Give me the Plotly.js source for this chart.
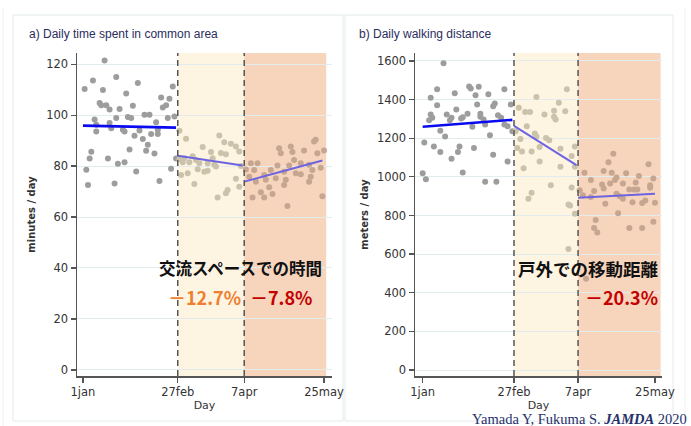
<!DOCTYPE html>
<html>
<head>
<meta charset="utf-8">
<script src="https://cdn.plot.ly/plotly-3.0.1.min.js"></script>
<style>
html,body{margin:0;padding:0;background:#fff;}
#chart{width:691px;height:426px;}
</style>
</head>
<body>
<div id="chart"></div>
<script>
// ---------- DATA ----------
// x = day of year 2020 (1 = 1 Jan)
const tickDays = [1, 58, 98, 146];
const tickLabels = ['1jan', '27feb', '7apr', '25may'];
const periodBreaks = [58, 98];

// a) minutes / day in common area
const aPreDay = [14,2,7,13,21,34,27,11,12,15,17,23,31,48,53,55,49,51,8,21,28,30,38,41,52,56,17,45,9,9,18,25,26,35,46,32,37,42,46,40,39,44,29,6,5,16,22,26,57,3,33,54,4,20,47];
const aPreVal = [121.5,110.3,113.6,109.9,115,112.6,108.5,104.8,103.9,103.9,102.2,102.4,103.7,106.9,106.4,111.2,103,103.9,98.3,98.9,99.3,98.9,100.2,100.2,98.9,99.5,96.9,97.2,96.2,93.6,94.9,94.3,93.6,94,94.3,91.9,90.6,92.6,92.6,88.4,86,84.9,86.5,85.6,83,83,80.9,81.5,83,78.6,77.9,79,72.6,73.2,74.2];
const aMidDay = [63,83,86,90,93,73,78,84,87,95,67,62,59,69,79,71,76,61,65,80,70,74,76,81,60,64,68,93,95,88,87,82,59,96];
const aMidVal = [90.7,92,89.4,88.8,87.7,87.5,85.5,85.1,84.7,85.7,83.9,83.1,82.7,82.4,83.1,81.1,81.1,81.5,81.5,80.5,78.8,77.8,78.2,79.8,76.5,77.2,73,75,71.9,70.6,69.3,67.7,93.9,80];
const aPostDay = [119,126,140,141,120,127,134,142,146,102,106,118,125,128,132,137,144,99,104,114,122,129,139,101,110,117,132,138,105,111,123,137,122,113,108,103,110,115,145,124];
const aPostVal = [87,87.7,89.7,90.3,85,85.5,86.1,85,86.1,81.1,81.1,80.2,80.2,82.4,81.1,80.5,79.4,78.7,78.5,78.5,77.8,77.2,78.5,75.8,76.5,75.2,76.8,75.8,73.9,74.6,74.6,73.9,72.6,71.7,69.7,67.7,67.7,69,68.2,64.3];
const aTrendPreDay = [1, 57],   aTrendPreVal = [95.9, 95.1];
const aTrendMidDay = [58, 97],  aTrendMidVal = [84.1, 80.2];
const aTrendPostDay = [98, 145], aTrendPostVal = [73.9, 82.2];

// b) meters / day walking distance
const bPreDay = [14,6,10,21,30,31,36,34,42,52,10,22,35,46,45,56,6,7,16,19,26,29,37,37,48,50,5,18,25,39,52,54,12,15,32,40,57,43,2,8,12,24,23,19,33,45,54,26,1,3,40,47];
const bPreVal = [1588,1410,1454,1433,1468,1457,1466,1422,1428,1454,1370,1349,1375,1379,1366,1375,1323,1306,1323,1306,1309,1326,1326,1311,1319,1306,1293,1293,1302,1297,1271,1262,1239,1209,1259,1271,1236,1215,1178,1157,1128,1157,1128,1093,1149,1114,1079,1023,1018,987,974,974];
const bMidDay = [91,72,86,77,83,90,65,68,83,84,66,71,72,78,80,74,62,63,60,69,87,74,87,94,96,64,96,81,67,69,94,92,93,96,92,61,59];
const bMidVal = [1454,1413,1384,1323,1342,1340,1335,1335,1311,1297,1262,1224,1209,1201,1189,1154,1196,1131,1149,1131,1145,1079,1052,1108,1157,1044,1052,957,887,917,945,857,852,809,626,1358,1236];
const bPostDay = [120,117,142,102,114,119,122,128,136,145,106,113,114,118,121,126,134,143,143,99,108,130,133,135,101,106,122,126,124,115,132,138,140,146,123,109,145,108,110,130,138,103];
const bPostVal = [1119,1075,1065,1021,1030,1021,997,1018,1004,992,983,960,939,966,983,966,971,957,943,931,927,934,934,934,905,896,913,887,899,861,869,864,878,866,812,777,768,735,712,735,735,473];
const bTrendPreDay = [1, 57],   bTrendPreVal = [1259, 1295];
const bTrendMidDay = [58, 97],  bTrendMidVal = [1264, 1061];
const bTrendPostDay = [98, 146], bTrendPostVal = [892, 913];

// ---------- STYLE / LAYOUT ----------
const W = 691, H = 426;
const px = v => v / W, py = v => 1 - v / H;

const colPre = '#9d9d9d', colMid = '#cbc2ab', colPost = '#c6a690';
const trendPre = '#0a0af0', trendLater = '#6d64e2';
const mSize = 6;

function pts(x, y, c, xa, ya) {
  return {type: 'scatter', mode: 'markers', x: x, y: y, xaxis: xa, yaxis: ya,
    marker: {size: mSize, color: c}, hoverinfo: 'skip', showlegend: false};
}
function line(x, y, c, w, xa, ya) {
  return {type: 'scatter', mode: 'lines', x: x, y: y, xaxis: xa, yaxis: ya,
    line: {color: c, width: w}, hoverinfo: 'skip', showlegend: false};
}

const data = [
  pts(aPreDay, aPreVal, colPre, 'x', 'y'),
  pts(aMidDay, aMidVal, colMid, 'x', 'y'),
  pts(aPostDay, aPostVal, colPost, 'x', 'y'),
  line(aTrendPreDay, aTrendPreVal, trendPre, 2.6, 'x', 'y'),
  line(aTrendMidDay, aTrendMidVal, trendLater, 2, 'x', 'y'),
  line(aTrendPostDay, aTrendPostVal, trendLater, 2, 'x', 'y'),
  pts(bPreDay, bPreVal, colPre, 'x2', 'y2'),
  pts(bMidDay, bMidVal, colMid, 'x2', 'y2'),
  pts(bPostDay, bPostVal, colPost, 'x2', 'y2'),
  line(bTrendPreDay, bTrendPreVal, trendPre, 2.6, 'x2', 'y2'),
  line(bTrendMidDay, bTrendMidVal, trendLater, 2, 'x2', 'y2'),
  line(bTrendPostDay, bTrendPostVal, trendLater, 2, 'x2', 'y2')
];

const tickFont = {family: 'DejaVu Sans', size: 11.5, color: '#333'};
const axisCommon = {
  showline: true, linecolor: '#555', linewidth: 1.5,
  ticks: 'outside', ticklen: 5, tickwidth: 1.3, tickcolor: '#555',
  tickfont: tickFont, zeroline: false, fixedrange: true
};
function xAxis(domain, range, anchor) {
  return Object.assign({}, axisCommon, {
    domain: domain, range: range, anchor: anchor,
    tickmode: 'array', tickvals: tickDays, ticktext: tickLabels,
    showgrid: false,
    title: {text: 'Day', font: {family: 'DejaVu Sans', size: 11, color: '#333'}, standoff: 0}
  });
}
function yAxis(domain, range, anchor, dtick, title, standoff) {
  return Object.assign({}, axisCommon, {
    domain: domain, range: range, anchor: anchor, dtick: dtick,
    showgrid: true, gridcolor: '#e2ecee', gridwidth: 1,
    title: {text: title, font: {family: 'DejaVu Sans', size: 10, color: '#333', weight: 'bold'}, standoff: standoff}
  });
}

const yDom = [py(376), py(53)];
const layout = {
  width: W, height: H,
  margin: {l: 0, r: 0, t: 0, b: 0},
  paper_bgcolor: '#ffffff', plot_bgcolor: 'rgba(0,0,0,0)',
  showlegend: false,
  xaxis: xAxis([px(77), px(332)], [-2.6, 150.8], 'y'),
  yaxis: yAxis(yDom, [-2.4, 124.4], 'x', 20, 'minutes / day', 8),
  xaxis2: xAxis([px(415), px(662)], [-3.8, 150.4], 'y2'),
  yaxis2: yAxis(yDom, [-31, 1641], 'x2', 200, 'meters / day', 6),
  shapes: [
    // panel frames
    {type: 'rect', xref: 'paper', yref: 'paper', x0: px(13), x1: px(343), y0: py(421), y1: py(15), line: {color: '#e3eaea', width: 1}, layer: 'below'},
    {type: 'rect', xref: 'paper', yref: 'paper', x0: px(345), x1: px(673), y0: py(421), y1: py(15), line: {color: '#e3eaea', width: 1}, layer: 'below'},
    {type: 'line', xref: 'paper', yref: 'paper', x0: px(3), x1: px(3), y0: 0, y1: py(8), line: {color: '#eef2f2', width: 1}, layer: 'below'},
    {type: 'line', xref: 'paper', yref: 'paper', x0: px(685), x1: px(685), y0: 0, y1: py(8), line: {color: '#eef2f2', width: 1}, layer: 'below'},
    // period shading
    {type: 'rect', xref: 'x', yref: 'y domain', x0: periodBreaks[0], x1: periodBreaks[1], y0: 0, y1: 1, fillcolor: '#fdf4e1', line: {width: 0}, layer: 'below'},
    {type: 'rect', xref: 'x', yref: 'y domain', x0: periodBreaks[1], x1: 147.3, y0: 0, y1: 1, fillcolor: '#f7d4bc', line: {width: 0}, layer: 'below'},
    {type: 'rect', xref: 'x2', yref: 'y2 domain', x0: periodBreaks[0], x1: periodBreaks[1], y0: 0, y1: 1, fillcolor: '#fdf4e1', line: {width: 0}, layer: 'below'},
    {type: 'rect', xref: 'x2', yref: 'y2 domain', x0: periodBreaks[1], x1: 149.5, y0: 0, y1: 1, fillcolor: '#f7d4bc', line: {width: 0}, layer: 'below'},
    // dashed period boundaries
    {type: 'line', xref: 'x', yref: 'y domain', x0: periodBreaks[0], x1: periodBreaks[0], y0: 0, y1: 1, line: {color: '#555', width: 1.5, dash: '6px,4px'}},
    {type: 'line', xref: 'x', yref: 'y domain', x0: periodBreaks[1], x1: periodBreaks[1], y0: 0, y1: 1, line: {color: '#555', width: 1.5, dash: '6px,4px'}},
    {type: 'line', xref: 'x2', yref: 'y2 domain', x0: periodBreaks[0], x1: periodBreaks[0], y0: 0, y1: 1, line: {color: '#555', width: 1.5, dash: '6px,4px'}},
    {type: 'line', xref: 'x2', yref: 'y2 domain', x0: periodBreaks[1], x1: periodBreaks[1], y0: 0, y1: 1, line: {color: '#555', width: 1.5, dash: '6px,4px'}}
  ],
  annotations: [
    {xref: 'paper', yref: 'paper', x: px(27), y: py(34), xanchor: 'left', yanchor: 'middle', showarrow: false,
     text: 'a) Daily time spent in common area', font: {family: 'Liberation Sans', size: 12, color: '#2b2d5e'}},
    {xref: 'paper', yref: 'paper', x: px(357), y: py(34), xanchor: 'left', yanchor: 'middle', showarrow: false,
     text: 'b) Daily walking distance', font: {family: 'Liberation Sans', size: 12, color: '#2b2d5e'}},
    {xref: 'paper', yref: 'paper', x: px(240), y: py(268), xanchor: 'center', yanchor: 'middle', showarrow: false,
     text: '交流スペースでの時間', font: {family: 'Noto Sans CJK JP', size: 16.5, color: '#111', weight: 'bold'}},
    {xref: 'paper', yref: 'paper', x: px(204), y: py(297), xanchor: 'center', yanchor: 'middle', showarrow: false,
     text: '－12.7%', font: {family: 'Noto Sans CJK JP', size: 18, color: '#ef7f30', weight: 'bold'}},
    {xref: 'paper', yref: 'paper', x: px(281), y: py(297), xanchor: 'center', yanchor: 'middle', showarrow: false,
     text: '－7.8%', font: {family: 'Noto Sans CJK JP', size: 18, color: '#c40000', weight: 'bold'}},
    {xref: 'paper', yref: 'paper', x: px(588), y: py(268), xanchor: 'center', yanchor: 'middle', showarrow: false,
     text: '戸外での移動距離', font: {family: 'Noto Sans CJK JP', size: 17.5, color: '#111', weight: 'bold'}},
    {xref: 'paper', yref: 'paper', x: px(621), y: py(297), xanchor: 'center', yanchor: 'middle', showarrow: false,
     text: '－20.3%', font: {family: 'Noto Sans CJK JP', size: 18, color: '#c40000', weight: 'bold'}},
    {xref: 'paper', yref: 'paper', x: px(689), y: py(419), xanchor: 'right', yanchor: 'middle', showarrow: false,
     text: 'Yamada Y, Fukuma S. <b><i>JAMDA</i></b> 2020', font: {family: 'Liberation Serif', size: 14.5, color: '#26306b'}}
  ]
};

Plotly.newPlot('chart', data, layout, {staticPlot: true, displayModeBar: false});
</script>
</body>
</html>
